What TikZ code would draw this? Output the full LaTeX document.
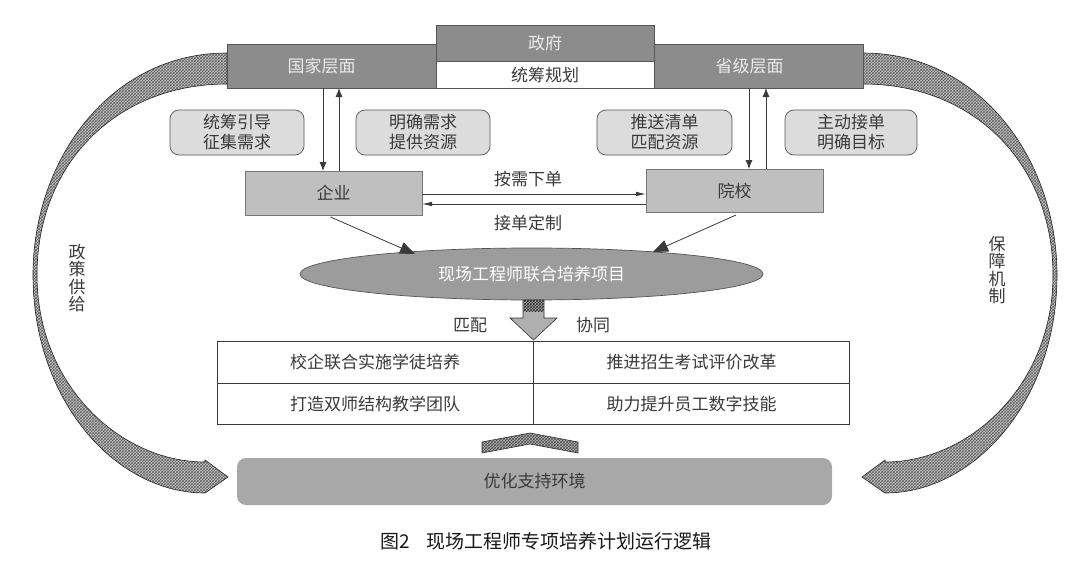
\documentclass[tikz,border=0pt]{standalone}
\usepackage{fontspec}
\setmainfont{Noto Sans CJK SC}
\usetikzlibrary{arrows.meta,shapes.geometric,patterns,calc}
\definecolor{topgray}{HTML}{8C8C8C}
\definecolor{midgray}{HTML}{BFBFBF}
\definecolor{softgray}{HTML}{DCDCDC}
\definecolor{ellgray}{HTML}{9C9C9C}
\definecolor{botgray}{HTML}{A8A8A8}
\definecolor{txt}{HTML}{3A3A3A}
\definecolor{edge}{HTML}{555555}
\begin{document}
\begin{tikzpicture}[x=1pt,y=-1pt,
  every node/.style={inner sep=0pt, outer sep=0pt},
  base/.style={font=\fontsize{17}{20}\selectfont, text=txt},
  topbox/.style={base, draw=edge, fill=topgray, line width=0.7pt, text=white!92!black},
  whitebox/.style={base, draw=edge, fill=white, line width=0.7pt},
  softbox/.style={base, draw=edge, fill=softgray, rounded corners=9pt, line width=0.7pt, align=center},
  midbox/.style={base, draw=edge!80, fill=midgray, line width=0.6pt},
  cell/.style={base, draw=txt, line width=0.9pt, minimum height=41.5, text width=316, align=center},
  band/.style={preaction={fill=gray!42}, pattern=crosshatch, pattern color=gray!75!black, draw=gray!30!black, line width=0.6pt},
  thin/.style={draw=txt, line width=0.8pt},
  vtip/.style={thin, -{Latex[length=9pt,width=7pt]}},
  htip/.style={thin, -{Latex[length=10pt,width=4.5pt]}},
  bigtip/.style={thin, -{Triangle[length=15pt,width=12pt]}},
  fat/.style={fill=gray!62, draw=gray!40!black, line width=0.6pt}
]
\useasboundingbox[fill=white] (0,0) rectangle (1080,562);

% curved bands
\path[band] (227,53) .. controls (110,53) and (33,160) .. (33,275)
  .. controls (33,400) and (115,493) .. (205,493) -- (228,477) -- (205,460) -- (205,462)
  .. controls (120,462) and (37,385) .. (37,275)
  .. controls (37,165) and (115,84) .. (227,84) -- cycle;
\path[band] (863,53) .. controls (980,53) and (1057,160) .. (1057,275)
  .. controls (1057,400) and (975,493) .. (885,493) -- (862,477) -- (885,460) -- (885,462)
  .. controls (970,462) and (1053,385) .. (1053,275)
  .. controls (1053,165) and (975,84) .. (863,84) -- cycle;

% top row
\node[topbox, minimum width=209, minimum height=44,
  label={[base, text=white!92!black, xshift=-10pt]center:国家层面}] (gj) at (331.5,66) {};
\node[topbox, minimum width=209, minimum height=44,
  label={[base, text=white!92!black, xshift=-9pt]center:省级层面}] (sj) at (758.5,66) {};
\node[topbox, minimum width=218, minimum height=36] (zf) at (545,43) {政府};
\node[whitebox, minimum width=218, minimum height=27] (tc) at (545,74.5) {统筹规划};

% soft boxes
\node[softbox, minimum width=134, minimum height=45] (b1) at (237,132.5) {统筹引导\\征集需求};
\node[softbox, minimum width=134, minimum height=45] (b2) at (423,132.5) {明确需求\\提供资源};
\node[softbox, minimum width=135, minimum height=45] (b3) at (664.5,132.5) {推送清单\\匹配资源};
\node[softbox, minimum width=132, minimum height=45] (b4) at (851,132.5) {主动接单\\明确目标};

% enterprise / school
\node[midbox, minimum width=177, minimum height=44] (qy) at (333.5,193) {企业};
\node[midbox, minimum width=177, minimum height=43] (yx) at (734.5,190.5) {院校};

% vertical arrows
\draw[vtip] ([xshift=-10.5pt]qy.north |- gj.south) -- ([xshift=-10.5pt]qy.north);
\draw[vtip] ([xshift=5.5pt]qy.north) -- ([xshift=5.5pt]qy.north |- gj.south);
\draw[vtip] ([xshift=14.5pt]yx.north |- sj.south) -- ([xshift=14.5pt]yx.north);
\draw[vtip] ([xshift=31.5pt]yx.north) -- ([xshift=31.5pt]yx.north |- sj.south);

% horizontal arrows
\draw[htip] ([yshift=-1pt]qy.east) -- ([yshift=-1pt]qy.east -| yx.west);
\draw[htip] ([yshift=-11pt]qy.east -| yx.west) -- ([yshift=-11pt]qy.east);
\node[base] (l1) at (528,179) {按需下单};
\node[base] (l2) at (528,223) {接单定制};

% ellipse
\node[base, ellipse, draw=edge, fill=ellgray, line width=0.7pt, minimum width=463, minimum height=52, text=white] (xm) at (531.5,274) {现场工程师联合培养项目};
\path (xm.center) ++(-116.5,-20) coordinate (e1);
\path (xm.center) ++(121.5,-22) coordinate (e2);
\draw[bigtip] ([xshift=-3pt,yshift=-2pt]qy.south) -- (e1);
\draw[bigtip] ([xshift=1.5pt,yshift=-3pt]yx.south) -- (e2);

% fat down arrow
\path[fat] (523,300) -- (544,300) -- (544,318) -- (557,318) -- (533.5,340) -- (510,318) -- (523,318) -- cycle;
\path[pattern=crosshatch, pattern color=gray!30!black] (523.5,300.5) rectangle (543.5,311);
\node[base] (pp) at (470,325) {匹配};
\node[base] (xt) at (593,325) {协同};

% table
\node[cell] (c11) at (375,362.5) {校企联合实施学徒培养};
\node[cell] (c12) at (691.5,362.5) {推进招生考试评价改革};
\node[cell] (c21) at (375,404) {打造双师结构教学团队};
\node[cell] (c22) at (691.5,404) {助力提升员工数字技能};

% chevron
\path[fat, preaction={fill=gray!55}, pattern=crosshatch, pattern color=gray!60!black]
  (482,453) -- (482,442) -- (530,433) -- (578,442) -- (578,453) -- (530,444) -- cycle;

% bottom box
\node[base, fill=botgray, rounded corners=9pt, minimum width=595, minimum height=47] (hj) at (534.5,481.5) {优化支持环境};

% side labels
\node[base, align=center, font=\fontsize{17}{17.5}\selectfont] (zc) at (77,278) {政\\策\\供\\给};
\node[base, align=center, font=\fontsize{17}{17.5}\selectfont] (bz) at (997,270) {保\\障\\机\\制};

% caption
\node[font=\fontsize{19}{22}\selectfont, text=black!90] (cap) at (546,541) {图2\hspace{17pt}现场工程师专项培养计划运行逻辑};
\end{tikzpicture}
\end{document}
